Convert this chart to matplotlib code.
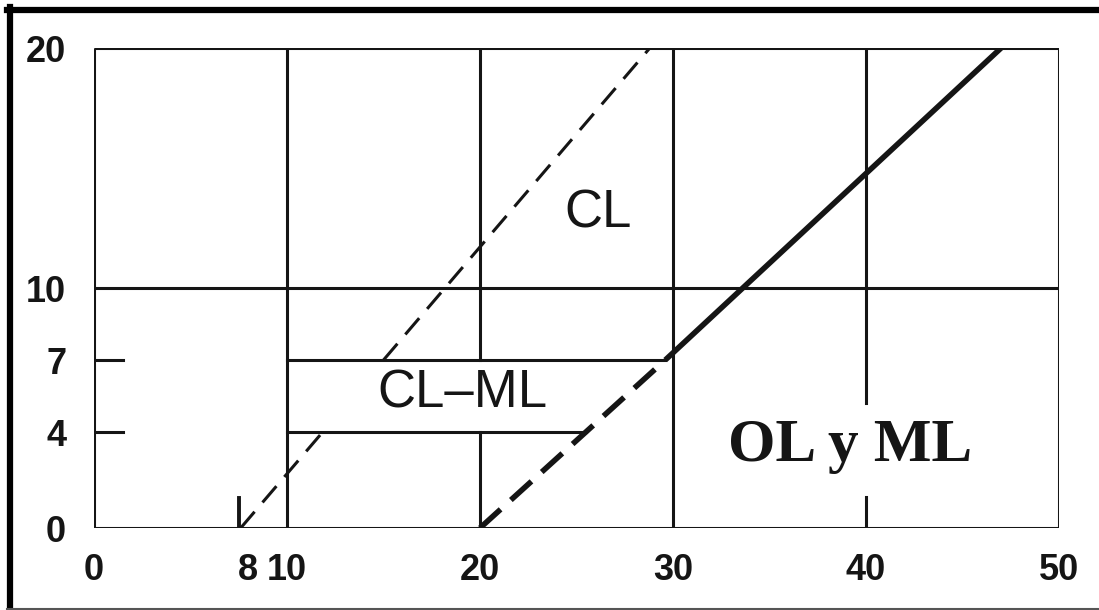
#!/usr/bin/env python3
import matplotlib
matplotlib.use("Agg")
import matplotlib.pyplot as plt
from matplotlib.lines import Line2D

# --- Chart data (liquid limit vs plasticity index) ---

x_ticks = [0, 8, 10, 20, 30, 40, 50]
y_ticks = [0, 4, 7, 10, 20]

# A-line: dashed below the CL-ML band top, solid above it
a_dash_ll = [20, 29.6]
a_dash_pi = [0, 7.0]
a_solid_ll = [29.6, 47.0]
a_solid_pi = [7.0, 20.0]

# upper (thin dashed) boundary, broken by the CL-ML band
u_low_ll = [7.6, 11.85]
u_low_pi = [0, 4.0]
u_high_ll = [15.0, 28.8]
u_high_pi = [7.0, 20.0]

# CL-ML band limits
band_top_ll = [10, 29.6]
band_top_pi = [7, 7]
band_bot_ll = [10, 25.5]
band_bot_pi = [4, 4]

# grid frame
grid_x = [0, 10, 30, 50]
grid_y = [0, 10, 20]
# verticals with gaps (label areas)
x20_pieces = [(0, 4), (7, 20)]
x40_pieces = [(0, 1.3), (5.2, 20)]

labels = [("CL", 26.1, 13.1), ("CL\u2013ML", 19.1, 5.6)]
label_olml = ("OL y ML", 39.2, 3.4)

# --- Figure ---

fig = plt.figure(figsize=(10.99, 6.10), dpi=100)
ax = fig.add_axes([94 / 1099, 82 / 610, 965 / 1099, 480 / 610])
ax.set_xlim(0, 50)
ax.set_ylim(0, 20)
for s in ax.spines.values():
    s.set_visible(False)

ink = "#151515"
lw_grid = 2.2
for gx in grid_x:
    ax.plot([gx, gx], [0, 20], color=ink, lw=lw_grid, solid_capstyle="butt")
for gy in grid_y:
    ax.plot([0, 50], [gy, gy], color=ink, lw=lw_grid, solid_capstyle="butt")
for y0, y1 in x20_pieces:
    ax.plot([20, 20], [y0, y1], color=ink, lw=lw_grid)
for y0, y1 in x40_pieces:
    ax.plot([40, 40], [y0, y1], color=ink, lw=lw_grid)

# short ticks at 4 and 7 inside the left edge
for t in [4, 7]:
    ax.plot([0, 1.5], [t, t], color=ink, lw=lw_grid)

ax.plot(band_top_ll, band_top_pi, color=ink, lw=lw_grid)
ax.plot(band_bot_ll, band_bot_pi, color=ink, lw=lw_grid)

ax.plot(u_low_ll, u_low_pi, color=ink, lw=2.2, dashes=(7, 4))
ax.plot(u_high_ll, u_high_pi, color=ink, lw=2.2, dashes=(7, 4))
# small stroke at the start of the dashed line
ax.plot([7.5, 7.5], [0, 1.25], color=ink, lw=2.8)

ax.plot(a_dash_ll, a_dash_pi, color=ink, lw=4.0, dashes=(5, 2.5))
ax.plot(a_solid_ll, a_solid_pi, color=ink, lw=4.0, solid_capstyle="butt")

for txt, lx, ly in labels:
    ax.text(lx, ly, txt, fontsize=38, family="Liberation Sans",
            ha="center", va="center", color=ink)
ax.text(label_olml[1], label_olml[2], label_olml[0], fontsize=44,
        family="Liberation Serif", weight="bold",
        ha="center", va="center", color=ink)

ax.set_xticks(x_ticks)
ax.set_xticklabels([str(v) for v in x_ticks])
ax.set_yticks(y_ticks)
ax.set_yticklabels([str(v) for v in y_ticks])
ax.tick_params(axis="both", length=0, labelsize=26, colors=ink)
ax.tick_params(axis="x", pad=18)
ax.tick_params(axis="y", pad=20)
for lab in ax.get_xticklabels() + ax.get_yticklabels():
    lab.set_family("Liberation Sans")
    lab.set_weight("bold")

# picture frame
fig.add_artist(Line2D([7 / 1099, 1], [1 - 10 / 610, 1 - 10 / 610],
                      transform=fig.transFigure, color="black", lw=4.5))
fig.add_artist(Line2D([10 / 1099, 10 / 1099], [1 - 7 / 610, 2 / 610],
                      transform=fig.transFigure, color="black", lw=4.5))
fig.add_artist(Line2D([7 / 1099, 1], [1 / 610, 1 / 610],
                      transform=fig.transFigure, color="#555555", lw=1.5))

fig.savefig("out.png", dpi=100)
